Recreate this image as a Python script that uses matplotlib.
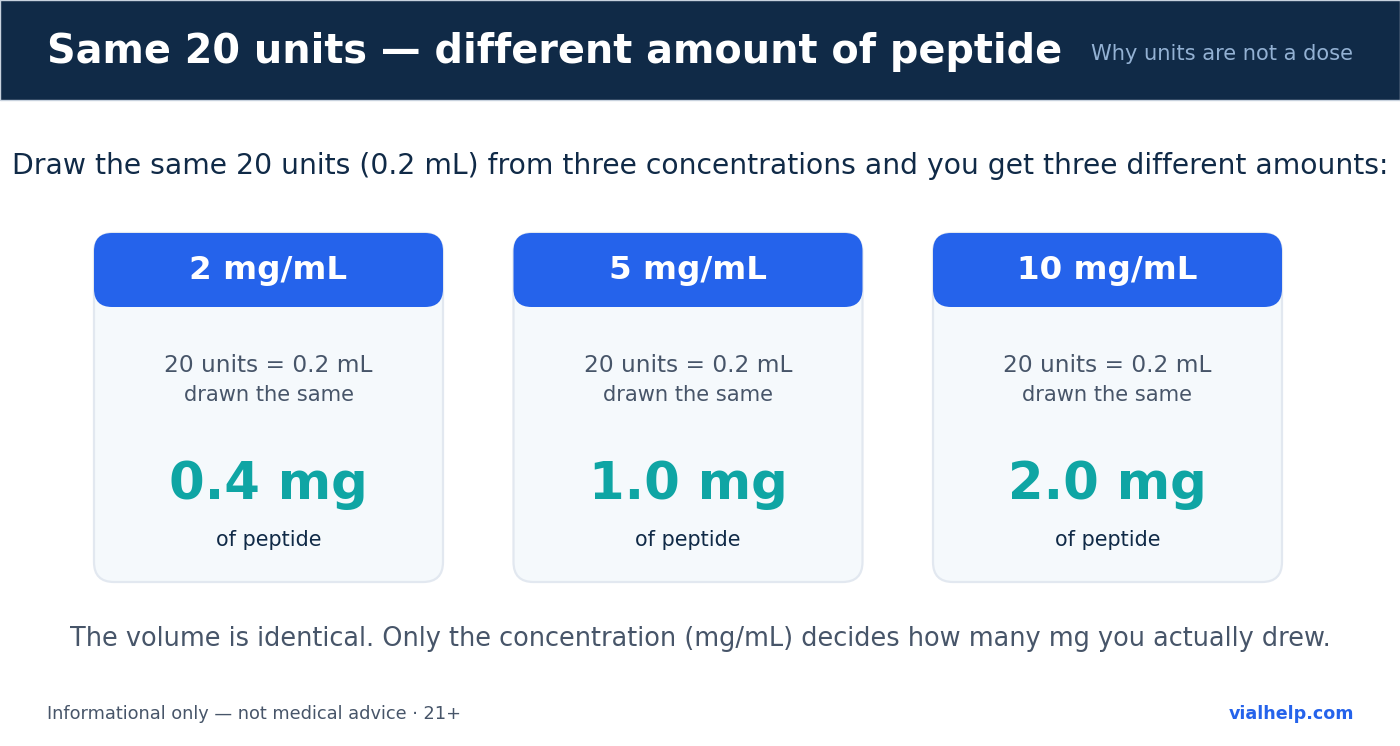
import matplotlib
matplotlib.use("Agg")
import matplotlib.pyplot as plt
from matplotlib.patches import FancyBboxPatch, Rectangle

plt.rcParams['font.family'] = ['DejaVu Sans']

# Data
concentrations = ["2 mg/mL", "5 mg/mL", "10 mg/mL"]
amounts_mg = [0.4, 1.0, 2.0]
draw_units = 20
draw_ml = 0.2

title = "Same 20 units — different amount of peptide"
subtitle = "Why units are not a dose"
intro = "Draw the same 20 units (0.2 mL) from three concentrations and you get three different amounts:"
outro = "The volume is identical. Only the concentration (mg/mL) decides how many mg you actually drew."
footer_left = "Informational only — not medical advice · 21+"
footer_right = "vialhelp.com"

NAVY = "#102A47"
BLUE = "#2563EB"
TEAL = "#0FA5A4"
SLATE = "#475569"
CARD_BG = "#F5F9FC"
CARD_EDGE = "#E2E8F0"

W, H = 1400, 746
PX = 0.72  # px -> pt at dpi 100

fig = plt.figure(figsize=(W / 100, H / 100), dpi=100)
ax = fig.add_axes([0, 0, 1, 1])
ax.set_xlim(0, W)
ax.set_ylim(H, 0)
ax.axis("off")

# header band
ax.add_patch(Rectangle((0, 0), W, 100, facecolor=NAVY, edgecolor="#C8D2DE", lw=1))
ax.text(47, 52, title, color="white", fontsize=39.7 * PX, fontweight="bold", va="center", ha="left")
ax.text(1353, 54, subtitle, color="#93B1D3", fontsize=21 * PX, va="center", ha="right")

ax.text(700, 166, intro, color=NAVY, fontsize=28.2 * PX, va="center", ha="center")

# cards
card_w, card_h, head_h = 349, 349, 74
card_top = 233
pitch = 419.5
x_start = 94
for i, (conc, mg) in enumerate(zip(concentrations, amounts_mg)):
    x0 = x_start + i * pitch
    cx = x0 + card_w / 2
    ax.add_patch(FancyBboxPatch((x0, card_top), card_w, card_h,
                                boxstyle="round,pad=0,rounding_size=20",
                                facecolor=CARD_BG, edgecolor=CARD_EDGE, lw=1.6))
    ax.add_patch(FancyBboxPatch((x0, card_top), card_w, head_h,
                                boxstyle="round,pad=0,rounding_size=18",
                                facecolor=BLUE, edgecolor="none"))
    ax.text(cx, card_top + head_h / 2 + 1, conc, color="white", fontsize=32.5 * PX,
            fontweight="bold", va="center", ha="center")
    ax.text(cx, 365, f"{draw_units} units = {draw_ml} mL", color=SLATE, fontsize=23.2 * PX,
            va="center", ha="center")
    ax.text(cx, 395, "drawn the same", color=SLATE, fontsize=21 * PX, va="center", ha="center")
    ax.text(cx, 485, f"{mg:.1f} mg", color=TEAL, fontsize=51.3 * PX, fontweight="bold",
            va="center", ha="center")
    ax.text(cx, 540, "of peptide", color=NAVY, fontsize=20.8 * PX, va="center", ha="center")

ax.text(700, 639, outro, color=SLATE, fontsize=25.6 * PX, va="center", ha="center")

ax.text(47, 714, footer_left, color=SLATE, fontsize=17.7 * PX, va="center", ha="left")
ax.text(1354, 714, footer_right, color=BLUE, fontsize=17.5 * PX, fontweight="bold",
        va="center", ha="right")

fig.savefig("out.png", dpi=100, facecolor="white")
